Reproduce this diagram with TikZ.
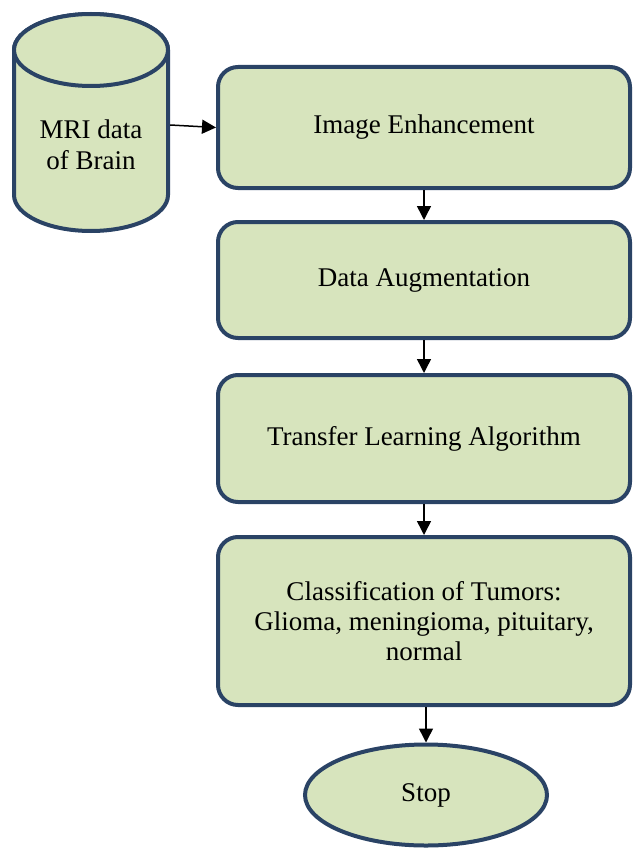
\documentclass[tikz,border=0pt]{standalone}
\usepackage{fontspec}
\setmainfont{Liberation Serif}
\usetikzlibrary{shapes.geometric, arrows.meta}

\definecolor{boxfill}{HTML}{D7E4BD}
\definecolor{boxline}{HTML}{2A4365}

\tikzset{
  stepbox/.style={draw=boxline, line width=4pt, fill=boxfill, rounded corners=20pt,
    minimum width=412pt, align=center, font=\fontsize{27}{30}\selectfont},
  dbline/.style={draw=boxline, line width=4pt, fill=boxfill},
  endbox/.style={draw=boxline, line width=4pt, fill=boxfill, ellipse,
    minimum width=242pt, minimum height=101pt, font=\fontsize{27}{30}\selectfont},
  flow/.style={-{Triangle[length=14pt,width=14pt]}, line width=1.5pt}
}

\begin{document}
\begin{tikzpicture}[x=1pt, y=-1pt]
\useasboundingbox (0,0) rectangle (632,848);

% Base de dados (cilindro)
\draw[dbline] (14,50) -- (14,195) arc (180:360:77 and -36) -- (168,50) arc (0:180:77 and -36) -- cycle;
\draw[dbline] (91,50) ellipse (77 and 36);
\node[align=center, minimum width=158pt, font=\fontsize{27}{31}\selectfont] (mri) at (91,145) {MRI data\\of Brain};

% Etapas
\node[stepbox, minimum height=121pt] (enh) at (424,127.5) {Image Enhancement};
\node[stepbox, minimum height=116pt] (aug) at (424,280) {Data Augmentation};
\node[stepbox, minimum height=127pt] (tl) at (424,438.5) {Transfer Learning Algorithm};
\node[stepbox, minimum height=168pt] (cls) at (424,621) {Classification of Tumors:\\Glioma, meningioma, pituitary,\\normal};

% Fim
\node[endbox] (stop) at (426,795) {Stop};

% Setas
\draw[flow] ([yshift=20pt]mri.east) -- (enh.west);
\draw[flow] (enh) -- (aug);
\draw[flow] (aug) -- (tl);
\draw[flow] (tl) -- (cls);
\draw[flow] (cls.south -| stop.north) -- (stop);
\end{tikzpicture}
\end{document}
